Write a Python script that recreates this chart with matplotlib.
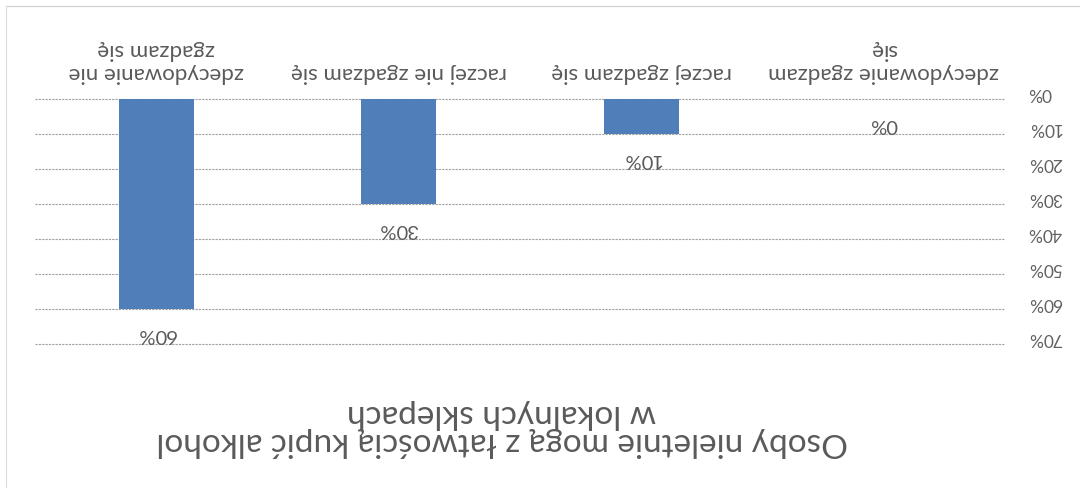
import matplotlib
matplotlib.use('Agg')
import matplotlib.pyplot as plt
from matplotlib.lines import Line2D

categories = ["zdecydowanie zgadzam\nsię", "raczej zgadzam się",
              "raczej nie zgadzam się", "zdecydowanie nie\nzgadzam się"]
values = [0, 10, 30, 60]
y_ticks = [0, 10, 20, 30, 40, 50, 60, 70]
y_tick_labels = [f"{v}%" for v in y_ticks]
value_labels = [f"{v}%" for v in values]
title = "Osoby nieletnie mogą z łatwością kupić alkohol\nw lokalnych sklepach"

plt.rcParams['font.family'] = ['Lato', 'DejaVu Sans']

W, H = 1080, 489
fig = plt.figure(figsize=(W / 100, H / 100), dpi=100)
fig.patch.set_facecolor('white')

TXT = '#5a5a5a'

# The reference is a scan rotated by 180 degrees
ax = fig.add_axes([35 / W, 144 / H, 970 / W, 245 / H])
x = list(range(len(categories)))
ax.bar(x, values, width=0.31, color='#4f7eb8', zorder=3)
ax.set_xlim(3.5, -0.5)
ax.set_ylim(70, 0)

ax.set_yticks(y_ticks)
ax.tick_params(axis='y', length=0, labelleft=False, labelright=False)
for v, lab in zip(y_ticks, y_tick_labels):
    ax.annotate(lab, (1, v), xycoords=('axes fraction', 'data'),
                xytext=(16.5, 5), textcoords='offset points',
                ha='left', va='center', rotation=180, fontsize=12.5,
                color='#606060', annotation_clip=False)

ax.xaxis.tick_top()
ax.set_xticks(x)
ax.set_xticklabels(categories, rotation=180, fontsize=16, color=TXT)
ax.tick_params(axis='x', length=0, pad=12)

for s in ax.spines.values():
    s.set_visible(False)
ax.grid(axis='y', color='#a0a0a0', lw=0.8, linestyle=(0, (2, 1)))
ax.grid(axis='x', visible=False)
for gl in ax.get_ygridlines():
    gl.set_clip_on(False)
ax.set_axisbelow(True)

for xi, v, lab in zip(x, values, value_labels):
    ax.annotate(lab, (xi, v), xytext=(0, -17.5), textcoords='offset points',
                ha='center', va='center', rotation=180, fontsize=14.5,
                color=TXT)

fig.text(502 / W, 1 - 428 / H, title, rotation=180, ha='center', va='center',
         fontsize=24, color=TXT, linespacing=0.95)

# faint chart-area border from the scan
fig.add_artist(Line2D([6 / W, 1], [1 - 7 / H, 1 - 7 / H], transform=fig.transFigure,
                      color='#cfcfcf', lw=0.8))
fig.add_artist(Line2D([6 / W, 6 / W], [0, 1 - 7 / H], transform=fig.transFigure,
                      color='#dcdcdc', lw=0.8))

fig.savefig('out.png', dpi=100)
